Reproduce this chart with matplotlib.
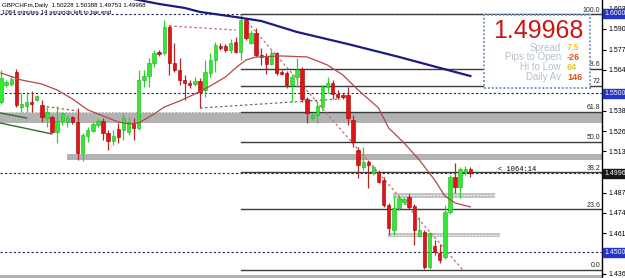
import matplotlib.pyplot as plt
import matplotlib.transforms as mtransforms
from matplotlib.patches import Rectangle
import numpy as np

plt.rcParams['font.family'] = ['Liberation Sans', 'DejaVu Sans']

# daily GBPCHF candles, oldest first
opens = [1.5445, 1.5552, 1.5558, 1.5633, 1.5413, 1.5420, 1.5445, 1.5457, 1.5426, 1.5344,
         1.5351, 1.5256, 1.5325, 1.5319, 1.5351, 1.5319, 1.5124, 1.5231, 1.5263, 1.5300,
         1.5325, 1.5250, 1.5200, 1.5275, 1.5269, 1.5256, 1.5313, 1.5281, 1.5583, 1.5608,
         1.5690, 1.5759, 1.5753, 1.5916, 1.5690, 1.5646, 1.5583, 1.5564, 1.5558, 1.5577,
         1.5520, 1.5627, 1.5709, 1.5797, 1.5797, 1.5772, 1.5822, 1.5759, 1.5960, 1.5816,
         1.5879, 1.5740, 1.5728, 1.5684, 1.5753, 1.5633, 1.5627, 1.5552, 1.5602, 1.5652,
         1.5464, 1.5344, 1.5363, 1.5413, 1.5539, 1.5564, 1.5495, 1.5489, 1.5489, 1.5332,
         1.5143, 1.5036, 1.5068, 1.4999, 1.5005, 1.4954, 1.4797, 1.4640, 1.4779, 1.4816,
         1.4848, 1.4791, 1.4603, 1.4628, 1.4408, 1.4540, 1.4496, 1.4471, 1.4753, 1.4973,
         1.4911, 1.5005, 1.50228]
highs = [1.5646, 1.5583, 1.5608, 1.5652, 1.5501, 1.5508, 1.5514, 1.5489, 1.5457, 1.5413,
         1.5363, 1.5420, 1.5382, 1.5363, 1.5357, 1.5407, 1.5250, 1.5288, 1.5319, 1.5338,
         1.5344, 1.5269, 1.5269, 1.5313, 1.5376, 1.5351, 1.5344, 1.5646, 1.5646, 1.5721,
         1.5772, 1.5772, 1.5960, 1.5929, 1.5816, 1.5721, 1.5615, 1.5583, 1.5602, 1.5596,
         1.5709, 1.5753, 1.5822, 1.5816, 1.5809, 1.5841, 1.5853, 1.5995, 1.5973, 1.5897,
         1.5910, 1.5784, 1.5753, 1.5772, 1.5759, 1.5646, 1.5640, 1.5621, 1.5721, 1.5665,
         1.5476, 1.5376, 1.5445, 1.5552, 1.5602, 1.5583, 1.5520, 1.5501, 1.5539, 1.5363,
         1.5162, 1.5162, 1.5080, 1.5049, 1.5017, 1.4973, 1.4810, 1.4860, 1.4860, 1.4848,
         1.4867, 1.4804, 1.4722, 1.4640, 1.4628, 1.4577, 1.4552, 1.4797, 1.4986, 1.5061,
         1.5036, 1.5043, 1.50388]
lows = [1.5432, 1.5539, 1.5545, 1.5413, 1.5382, 1.5382, 1.5382, 1.5451, 1.5319, 1.5288,
        1.5250, 1.5187, 1.5300, 1.5288, 1.5307, 1.5080, 1.5074, 1.5193, 1.5256, 1.5288,
        1.5206, 1.5143, 1.5175, 1.5187, 1.5206, 1.5237, 1.5206, 1.5269, 1.5539, 1.5539,
        1.5665, 1.5734, 1.5740, 1.5615, 1.5633, 1.5552, 1.5457, 1.5533, 1.5545, 1.5407,
        1.5476, 1.5602, 1.5633, 1.5772, 1.5759, 1.5753, 1.5753, 1.5709, 1.5835, 1.5809,
        1.5728, 1.5677, 1.5621, 1.5677, 1.5615, 1.5615, 1.5533, 1.5445, 1.5539, 1.5445,
        1.5313, 1.5332, 1.5313, 1.5395, 1.5501, 1.5464, 1.5464, 1.5464, 1.5300, 1.5162,
        1.4967, 1.5017, 1.4904, 1.4986, 1.4936, 1.4785, 1.4609, 1.4609, 1.4766, 1.4804,
        1.4772, 1.4546, 1.4596, 1.4392, 1.4395, 1.4483, 1.4433, 1.4458, 1.4741, 1.4873,
        1.4841, 1.4986, 1.49753]
closes = [1.5596, 1.5571, 1.5589, 1.5426, 1.5432, 1.5445, 1.5432, 1.5483, 1.5351, 1.5382,
          1.5256, 1.5325, 1.5376, 1.5344, 1.5319, 1.5124, 1.5237, 1.5269, 1.5307, 1.5325,
          1.5250, 1.5200, 1.5231, 1.5225, 1.5344, 1.5319, 1.5281, 1.5583, 1.5608, 1.5690,
          1.5753, 1.5747, 1.5916, 1.5690, 1.5646, 1.5583, 1.5564, 1.5552, 1.5577, 1.5508,
          1.5633, 1.5709, 1.5803, 1.5784, 1.5772, 1.5816, 1.5759, 1.5960, 1.5847, 1.5879,
          1.5740, 1.5728, 1.5684, 1.5753, 1.5627, 1.5621, 1.5552, 1.5602, 1.5646, 1.5464,
          1.5376, 1.5363, 1.5420, 1.5539, 1.5564, 1.5495, 1.5476, 1.5476, 1.5344, 1.5193,
          1.5049, 1.5068, 1.5049, 1.5036, 1.4942, 1.4797, 1.4653, 1.4779, 1.4841, 1.4835,
          1.4785, 1.4640, 1.4640, 1.4408, 1.4621, 1.4502, 1.4452, 1.4753, 1.4973, 1.4911,
          1.5024, 1.5024, 1.49968]

# moving averages (read at some bars)
ma_fast_idx = [0, 4, 8, 11, 14, 17, 20, 23, 25, 27, 30, 32, 35, 38, 41, 44, 46, 48, 50,
               55, 60, 64, 67, 70, 74, 76, 79, 82, 85, 87, 89, 92]
ma_fast = [1.5627, 1.5583, 1.5558, 1.5520, 1.5464, 1.5395, 1.5357, 1.5319, 1.5307, 1.5313,
           1.5369, 1.5413, 1.5451, 1.5495, 1.5545, 1.5602, 1.5659, 1.5709, 1.5728, 1.5734,
           1.5728, 1.5677, 1.5615, 1.5520, 1.5407, 1.5281, 1.5187, 1.5080, 1.4954, 1.4854,
           1.4810, 1.4785]
ma_slow_idx = [26, 31, 36, 39, 46, 51, 58, 63, 68, 78, 86, 92]
ma_slow = [1.6092, 1.6061, 1.6036, 1.6011, 1.5979, 1.5954, 1.5885, 1.5847, 1.5809, 1.5728,
           1.5659, 1.5608]

# fibonacci retracement
fib_idx = [47, 90.5]
fib_price = [1.5995, 1.4390]
fib_levels = [0.0, 23.6, 38.2, 50.0, 61.8, 72.0, 78.6, 100.0]
fib_labels = ['0.0', '23.6', '38.2', '50.0', '61.8', '72', '78.6', '100.0']

# other drawn objects
round_levels = [1.6000, 1.5500, 1.4500]
bid = 1.49968
zones = [(1.5313, 1.5382, -0.2, 117.8), (1.5080, 1.5118, 12.9, 117.8),
         (1.4357, 1.4339, -0.2, 117.8)]
small_zones = [(1.4841, 1.4873, 76.9, 96.9), (1.4596, 1.4621, 75.9, 97.8)]
tick_prices = [1.60300, 1.59040, 1.57745, 1.56490, 1.53895, 1.52600, 1.51340,
               1.48750, 1.47490, 1.46195, 1.43640]

fig = plt.figure(figsize=(6.25, 2.78), dpi=100)
ax = fig.add_axes([0, 0, 602 / 625, 1])
ax.set_xlim(-0.2, 117.8)
ax.set_ylim(1.4338, 1.6086)
for s in ['top', 'left', 'bottom']:
    ax.spines[s].set_visible(False)
ax.spines['right'].set_linewidth(1)
ax.set_xticks([])
ax.yaxis.tick_right()
ax.set_yticks(tick_prices)
ax.set_yticklabels(['%.5f' % p for p in tick_prices])
ax.tick_params(axis='y', length=3, width=0.8, pad=1.5, labelsize=5)

# zones
for lo, hi, x0, x1 in zones:
    ax.add_patch(Rectangle((x0, min(lo, hi)), x1 - x0, abs(hi - lo), color='#b2b2b2', lw=0, zorder=1))
ax.plot([-0.2, 117.8], [1.5380, 1.5380], color='white', lw=0.6, ls=(0, (2, 2)), zorder=1.5)
for lo, hi, x0, x1 in small_zones:
    ax.add_patch(Rectangle((x0, lo), x1 - x0, hi - lo, color='#c4c4c4', lw=0, zorder=1))
    ax.plot([x0, x1], [(lo + hi) / 2] * 2, color='white', lw=0.6, ls=(0, (2, 2)), zorder=1.5)

# round number lines and bid line
for lv in round_levels + [bid]:
    ax.axhline(lv, color='#23235a', lw=0.8, ls=(0, (2, 2)), zorder=2)

# fibo levels
fhi, flo = fib_price
ttrans = mtransforms.blended_transform_factory(ax.transAxes, ax.transData)
for lv, lab in zip(fib_levels, fib_labels):
    p = flo + (fhi - flo) * lv / 100
    ax.plot([fib_idx[0], 117.8], [p, p], color='#3a3a3a', lw=1.0, zorder=2)
    ax.text(0.997, p + 0.0004, lab, transform=ttrans, ha='right', va='bottom',
            fontsize=5, color='#222222', zorder=6)
ax.plot(fib_idx, fib_price, color='#c46a6a', lw=0.9, ls=(0, (2, 2)), zorder=2.5)

# trendlines
ax.plot([33, 46], [1.5923, 1.5897], color='#c46a6a', lw=0.9, ls=(0, (2, 2)), zorder=2.5)
ax.plot([8, 15], [1.5420, 1.5388], color='#b05a5a', lw=0.9, ls=(0, (2, 2)), zorder=2.5)
ax.plot([39, 66.5], [1.5407, 1.5464], color='#5f7a5f', lw=0.9, ls=(0, (2, 2)), zorder=2.5)
ax.plot([-0.2, 5.04], [1.5376, 1.5344], color='#2f6f2f', lw=1.0, zorder=2.5)
ax.plot([-0.2, 9.94], [1.5313, 1.5244], color='#2f6f2f', lw=1.0, zorder=2.5)

# candles
o = np.array(opens); h = np.array(highs); l = np.array(lows); c = np.array(closes)
idx = np.arange(len(o))
up = c >= o
ax.vlines(idx[up], l[up], h[up], color='#2bd42b', lw=0.9, zorder=3)
ax.vlines(idx[~up], l[~up], h[~up], color='#b22a2a', lw=0.9, zorder=3)
body_b = np.minimum(o, c)
body_h = np.maximum(np.abs(c - o), 0.0005)
ax.bar(idx[up], body_h[up], bottom=body_b[up], width=0.66, color='#33e833',
       edgecolor='#22b022', linewidth=0.4, zorder=4)
ax.bar(idx[~up], body_h[~up], bottom=body_b[~up], width=0.66, color='#e01414',
       edgecolor='#a00000', linewidth=0.4, zorder=4)

# moving averages
ax.plot(ma_fast_idx, ma_fast, color='#b04848', lw=0.9, zorder=5)
ax.plot(ma_slow_idx, ma_slow, color='#1c1c80', lw=1.6, zorder=5)

# highlighted price labels on the scale
for lv, col in [(1.60000, '#2233c8'), (1.55000, '#2233c8'), (1.45000, '#2233c8'), (bid, '#161616')]:
    ax.text(1.004, lv, '%.5f' % lv, transform=ttrans, ha='left', va='center', fontsize=5,
            color='white', clip_on=False, zorder=7,
            bbox=dict(boxstyle='square,pad=0.15', fc=col, ec=col))

ax.text(498 / 602, bid + 0.0003, '< 1064:14', transform=ttrans, fontsize=5,
        family=['Liberation Mono', 'DejaVu Sans Mono'], va='bottom', ha='left', zorder=6)

# header
fig.text(2 / 625, 1 - 5 / 278, 'GBPCHFm,Daily  1.50228 1.50388 1.49753 1.49968',
         fontsize=4.4, va='center', ha='left')
fig.text(2 / 625, 1 - 12.5 / 278, '1064 minutes 14 seconds left to bar end',
         fontsize=4.4, va='center', ha='left')

# info panel
def fx(x):
    return x / 625

def fy(y):
    return 1 - y / 278

box = Rectangle((fx(484), fy(88)), fx(106), 73 / 278, transform=fig.transFigure,
                facecolor='white', edgecolor='#7d9cc0', lw=1.4, ls=(0, (1, 1)), zorder=10)
fig.add_artist(box)
fig.text(fx(538), fy(31), '1.49968', fontsize=18, color='#cc1616', ha='center',
         va='center', zorder=11)
rows = [('Spread', '7.5', '#e8c832', 48), ('Pips to Open', '-26', '#e0561e', 57.5),
        ('Hi to Low', '64', '#e8c832', 67), ('Daily Av', '146', '#d85020', 77)]
for lab, val, col, y in rows:
    fig.text(fx(561), fy(y), lab, fontsize=7, color='#b8c0cc', ha='right', va='center', zorder=11)
    fig.text(fx(567), fy(y), val, fontsize=6.5, color=col, ha='left', va='center',
             fontweight='bold', zorder=11)

fig.savefig('out.png', dpi=100)
